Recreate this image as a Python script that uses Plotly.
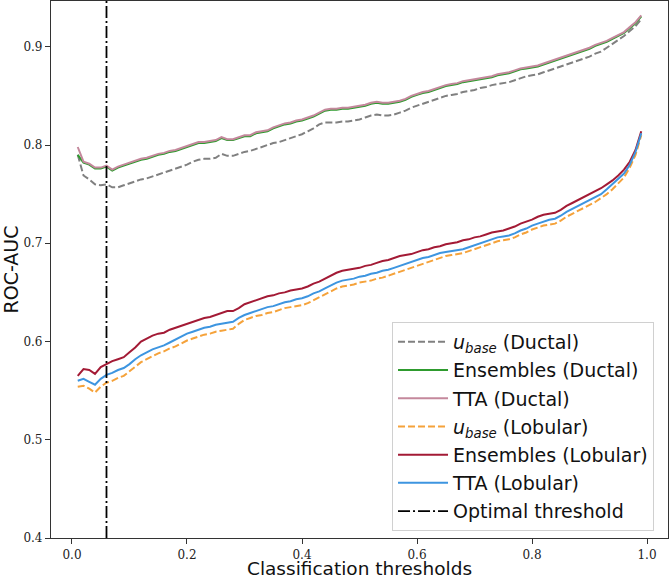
import plotly.graph_objects as go

thresholds = [round(0.01 * i, 2) for i in range(1, 100)]

ubase_ductal = [
    0.790, 0.769, 0.765, 0.760, 0.759, 0.760, 0.757, 0.757, 0.759, 0.761,
    0.763, 0.765, 0.766, 0.768, 0.770, 0.772, 0.774, 0.776, 0.778, 0.780,
    0.783, 0.785, 0.786, 0.786, 0.787, 0.791, 0.789, 0.789, 0.791, 0.793,
    0.794, 0.796, 0.798, 0.800, 0.802, 0.803, 0.805, 0.807, 0.809, 0.811,
    0.814, 0.817, 0.821, 0.823, 0.823, 0.823, 0.824, 0.824, 0.825, 0.826,
    0.828, 0.830, 0.831, 0.830, 0.830, 0.831, 0.833, 0.835, 0.838, 0.840,
    0.842, 0.844, 0.846, 0.848, 0.850, 0.851, 0.852, 0.854, 0.855, 0.856,
    0.858, 0.859, 0.861, 0.862, 0.863, 0.864, 0.866, 0.868, 0.870, 0.871,
    0.872, 0.874, 0.876, 0.878, 0.880, 0.882, 0.884, 0.886, 0.888, 0.890,
    0.893, 0.895, 0.899, 0.903, 0.907, 0.911, 0.916, 0.921, 0.928]

ensembles_ductal = [
    0.790, 0.782, 0.780, 0.776, 0.776, 0.778, 0.774, 0.777, 0.779, 0.781,
    0.783, 0.785, 0.786, 0.788, 0.790, 0.791, 0.793, 0.794, 0.796, 0.798,
    0.800, 0.802, 0.802, 0.803, 0.804, 0.807, 0.805, 0.805, 0.807, 0.809,
    0.809, 0.812, 0.813, 0.814, 0.817, 0.819, 0.821, 0.822, 0.824, 0.825,
    0.827, 0.829, 0.832, 0.835, 0.836, 0.836, 0.837, 0.837, 0.838, 0.839,
    0.840, 0.842, 0.843, 0.842, 0.842, 0.843, 0.844, 0.846, 0.849, 0.851,
    0.853, 0.854, 0.856, 0.858, 0.860, 0.861, 0.862, 0.864, 0.865, 0.866,
    0.867, 0.868, 0.869, 0.871, 0.872, 0.873, 0.875, 0.877, 0.878, 0.879,
    0.880, 0.882, 0.884, 0.886, 0.888, 0.890, 0.892, 0.894, 0.896, 0.898,
    0.901, 0.903, 0.905, 0.908, 0.911, 0.914, 0.919, 0.924, 0.931]

tta_ductal = [
    0.798, 0.783, 0.781, 0.777, 0.777, 0.779, 0.775, 0.778, 0.780, 0.782,
    0.784, 0.786, 0.787, 0.789, 0.791, 0.792, 0.794, 0.795, 0.797, 0.799,
    0.801, 0.803, 0.803, 0.804, 0.805, 0.808, 0.806, 0.806, 0.808, 0.810,
    0.810, 0.813, 0.814, 0.815, 0.818, 0.820, 0.822, 0.823, 0.825, 0.826,
    0.828, 0.830, 0.833, 0.836, 0.837, 0.837, 0.838, 0.838, 0.839, 0.840,
    0.841, 0.843, 0.844, 0.843, 0.843, 0.844, 0.845, 0.847, 0.850, 0.852,
    0.854, 0.855, 0.857, 0.859, 0.861, 0.862, 0.863, 0.865, 0.866, 0.867,
    0.868, 0.869, 0.870, 0.872, 0.873, 0.874, 0.876, 0.878, 0.879, 0.880,
    0.881, 0.883, 0.885, 0.887, 0.889, 0.891, 0.893, 0.895, 0.897, 0.899,
    0.902, 0.904, 0.906, 0.909, 0.912, 0.915, 0.920, 0.925, 0.932]

ubase_lobular = [
    0.554, 0.555, 0.552, 0.548, 0.554, 0.558, 0.560, 0.563, 0.565, 0.570,
    0.575, 0.579, 0.582, 0.585, 0.588, 0.590, 0.593, 0.595, 0.598, 0.601,
    0.603, 0.605, 0.607, 0.608, 0.610, 0.611, 0.612, 0.613, 0.618, 0.622,
    0.624, 0.626, 0.627, 0.629, 0.630, 0.632, 0.634, 0.635, 0.636, 0.637,
    0.639, 0.642, 0.645, 0.648, 0.651, 0.654, 0.656, 0.657, 0.658, 0.660,
    0.661, 0.662, 0.664, 0.665, 0.667, 0.669, 0.671, 0.673, 0.675, 0.677,
    0.679, 0.681, 0.683, 0.685, 0.687, 0.688, 0.689, 0.690, 0.692, 0.694,
    0.696, 0.698, 0.700, 0.702, 0.703, 0.704, 0.706, 0.709, 0.711, 0.714,
    0.716, 0.718, 0.719, 0.720, 0.723, 0.727, 0.730, 0.733, 0.736, 0.739,
    0.742, 0.746, 0.750, 0.755, 0.761, 0.767, 0.777, 0.790, 0.810]

ensembles_lobular = [
    0.565, 0.572, 0.571, 0.567, 0.574, 0.577, 0.580, 0.582, 0.584, 0.589,
    0.594, 0.600, 0.603, 0.606, 0.608, 0.609, 0.612, 0.614, 0.616, 0.618,
    0.620, 0.622, 0.624, 0.625, 0.627, 0.629, 0.631, 0.631, 0.634, 0.638,
    0.640, 0.642, 0.644, 0.646, 0.647, 0.649, 0.650, 0.652, 0.653, 0.654,
    0.656, 0.659, 0.661, 0.664, 0.667, 0.670, 0.672, 0.673, 0.674, 0.675,
    0.677, 0.678, 0.680, 0.682, 0.683, 0.685, 0.687, 0.688, 0.689, 0.691,
    0.693, 0.694, 0.696, 0.697, 0.699, 0.700, 0.701, 0.703, 0.704, 0.706,
    0.707, 0.709, 0.711, 0.712, 0.713, 0.715, 0.717, 0.720, 0.722, 0.724,
    0.727, 0.729, 0.730, 0.731, 0.734, 0.738, 0.741, 0.744, 0.747, 0.750,
    0.753, 0.756, 0.760, 0.764, 0.769, 0.775, 0.783, 0.795, 0.814]

tta_lobular = [
    0.560, 0.562, 0.559, 0.556, 0.562, 0.566, 0.568, 0.571, 0.573, 0.577,
    0.582, 0.586, 0.589, 0.592, 0.594, 0.596, 0.599, 0.602, 0.605, 0.608,
    0.610, 0.612, 0.614, 0.615, 0.617, 0.618, 0.619, 0.620, 0.624, 0.627,
    0.629, 0.631, 0.633, 0.635, 0.636, 0.638, 0.640, 0.641, 0.643, 0.644,
    0.646, 0.649, 0.651, 0.654, 0.657, 0.660, 0.662, 0.663, 0.664, 0.666,
    0.667, 0.669, 0.670, 0.672, 0.673, 0.675, 0.677, 0.679, 0.681, 0.683,
    0.685, 0.686, 0.688, 0.690, 0.691, 0.692, 0.693, 0.694, 0.696, 0.698,
    0.700, 0.702, 0.704, 0.706, 0.707, 0.708, 0.710, 0.713, 0.715, 0.718,
    0.720, 0.722, 0.724, 0.725, 0.728, 0.732, 0.735, 0.738, 0.741, 0.744,
    0.747, 0.750, 0.755, 0.760, 0.765, 0.771, 0.780, 0.793, 0.812]

optimal_threshold = 0.06

x_ticks = [0.0, 0.2, 0.4, 0.6, 0.8, 1.0]
y_ticks = [0.4, 0.5, 0.6, 0.7, 0.8, 0.9]
x_range = [-0.0365, 1.0365]
y_range = [0.4, 0.9466]

series = [
    ("<i>u</i><sub><i>base</i></sub> (Ductal)", ubase_ductal, "#808080", "7px,3px"),
    ("Ensembles (Ductal)", ensembles_ductal, "#2e9b2e", "solid"),
    ("TTA (Ductal)", tta_ductal, "#c4889c", "solid"),
    ("<i>u</i><sub><i>base</i></sub> (Lobular)", ubase_lobular, "#f5a23a", "7px,3px"),
    ("Ensembles (Lobular)", ensembles_lobular, "#a31a35", "solid"),
    ("TTA (Lobular)", tta_lobular, "#3d95e0", "solid"),
]

fig = go.Figure()
for i, (name, vals, color, dash) in enumerate(series):
    fig.add_trace(go.Scatter(
        x=thresholds, y=vals, mode="lines", name=name,
        line=dict(color=color, width=2, dash=dash),
        legendgroup=f"g{i}",
    ))

fig.add_trace(go.Scatter(
    x=[optimal_threshold, optimal_threshold], y=y_range, mode="lines",
    name="Optimal threshold",
    line=dict(color="black", width=1.8, dash="12px,3px,2px,3px"),
    legendgroup="g_opt",
))

axis_common = dict(
    showline=True, linecolor="#333333", linewidth=1.2, mirror=True,
    ticks="outside", ticklen=5, tickwidth=1, tickcolor="#333333",
    showgrid=False, zeroline=False, automargin=False,
    tickfont=dict(family="DejaVu Serif", size=12, color="#222222"),
)

fig.update_layout(
    width=670, height=579,
    margin=dict(l=51, r=2, t=1, b=41),
    plot_bgcolor="white", paper_bgcolor="white",
    xaxis=dict(range=x_range, tickvals=x_ticks, tickformat=".1f",
               title=dict(text="Classification thresholds", standoff=7,
                          font=dict(family="DejaVu Sans", size=18.5, color="#111111")),
               **axis_common),
    yaxis=dict(range=y_range, tickvals=y_ticks, tickformat=".1f",
               title=dict(text="ROC-AUC", standoff=9,
                          font=dict(family="DejaVu Sans", size=19, color="#111111")),
               **axis_common),
    legend=dict(
        x=0.5527, y=0.4022, xanchor="left", yanchor="top",
        bgcolor="rgba(255,255,255,0.85)", bordercolor="#d0d0d0", borderwidth=1,
        font=dict(family="DejaVu Sans", size=19, color="#111111"),
        tracegroupgap=0.5, itemwidth=50,
    ),
    showlegend=True,
)

fig.write_html("out.html",
               config={"displayModeBar": False},
               post_script="document.body.style.margin='0';document.body.style.padding='0';")
